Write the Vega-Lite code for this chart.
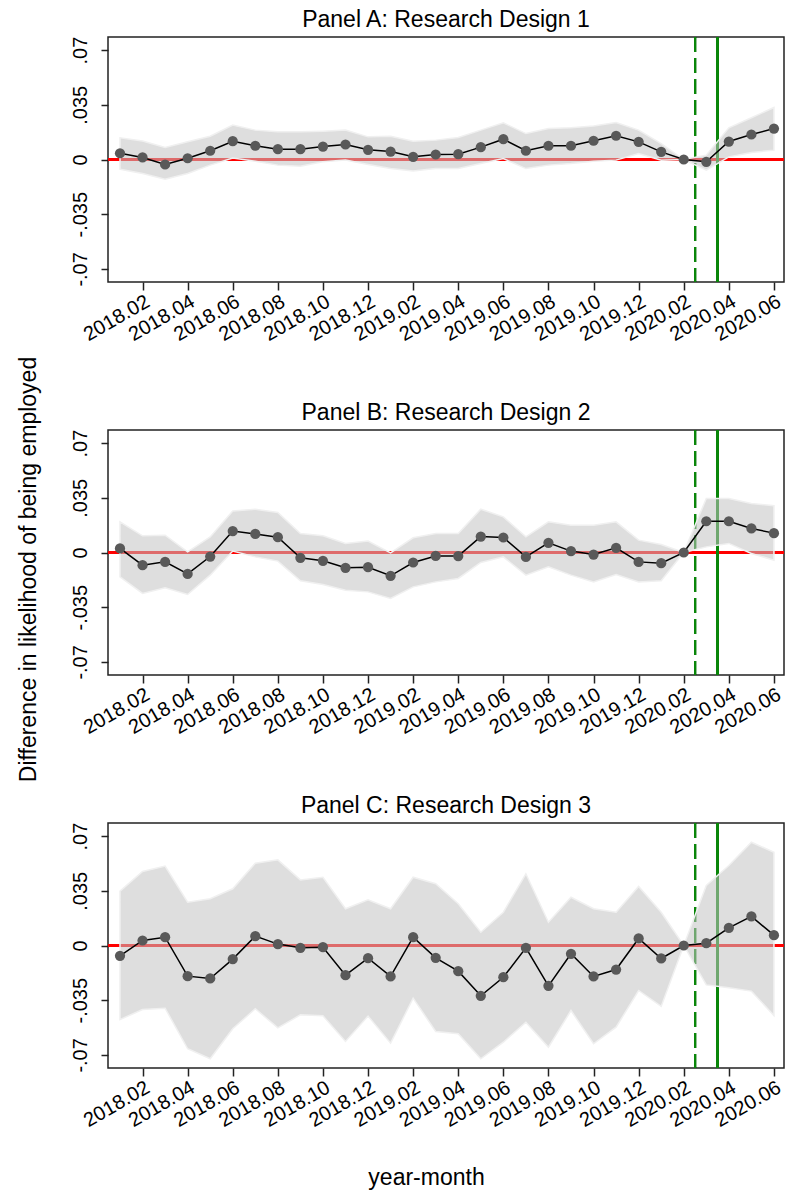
{
  "$schema": "https://vega.github.io/schema/vega-lite/v6.json",
  "autosize": {"type": "pad"},
  "padding": {"left": 16, "top": 8, "right": 2, "bottom": 5},
  "background": "white",
  "datasets": {
    "A": [
      {"t": 1, "est": 0.0040, "lo": -0.0062, "hi": 0.0139},
      {"t": 2, "est": 0.0013, "lo": -0.0090, "hi": 0.0119},
      {"t": 3, "est": -0.0032, "lo": -0.0126, "hi": 0.0077},
      {"t": 4, "est": 0.0008, "lo": -0.0090, "hi": 0.0113},
      {"t": 5, "est": 0.0056, "lo": -0.0036, "hi": 0.0149},
      {"t": 6, "est": 0.0117, "lo": 0.0010, "hi": 0.0220},
      {"t": 7, "est": 0.0088, "lo": -0.0011, "hi": 0.0188},
      {"t": 8, "est": 0.0066, "lo": -0.0036, "hi": 0.0177},
      {"t": 9, "est": 0.0066, "lo": -0.0043, "hi": 0.0177},
      {"t": 10, "est": 0.0083, "lo": -0.0015, "hi": 0.0181},
      {"t": 11, "est": 0.0096, "lo": -0.0004, "hi": 0.0188},
      {"t": 12, "est": 0.0062, "lo": -0.0032, "hi": 0.0145},
      {"t": 13, "est": 0.0051, "lo": -0.0058, "hi": 0.0149},
      {"t": 14, "est": 0.0017, "lo": -0.0073, "hi": 0.0117},
      {"t": 15, "est": 0.0032, "lo": -0.0058, "hi": 0.0124},
      {"t": 16, "est": 0.0034, "lo": -0.0058, "hi": 0.0141},
      {"t": 17, "est": 0.0079, "lo": -0.0026, "hi": 0.0188},
      {"t": 18, "est": 0.0130, "lo": 0.0006, "hi": 0.0235},
      {"t": 19, "est": 0.0056, "lo": -0.0058, "hi": 0.0166},
      {"t": 20, "est": 0.0088, "lo": -0.0036, "hi": 0.0198},
      {"t": 21, "est": 0.0088, "lo": -0.0026, "hi": 0.0203},
      {"t": 22, "est": 0.0120, "lo": -0.0011, "hi": 0.0215},
      {"t": 23, "est": 0.0152, "lo": -0.0004, "hi": 0.0237},
      {"t": 24, "est": 0.0113, "lo": 0.0038, "hi": 0.0188},
      {"t": 25, "est": 0.0049, "lo": -0.0004, "hi": 0.0102},
      {"t": 26, "est": 0.0, "lo": 0.0, "hi": 0.0},
      {"t": 27, "est": -0.0015, "lo": -0.0068, "hi": 0.0028},
      {"t": 28, "est": 0.0115, "lo": 0.0017, "hi": 0.0203},
      {"t": 29, "est": 0.0160, "lo": 0.0045, "hi": 0.0267},
      {"t": 30, "est": 0.0198, "lo": 0.0060, "hi": 0.0333}
    ],
    "B": [
      {"t": 1, "est": 0.0026, "lo": -0.0156, "hi": 0.0196},
      {"t": 2, "est": -0.0081, "lo": -0.0262, "hi": 0.0107},
      {"t": 3, "est": -0.0060, "lo": -0.0226, "hi": 0.0111},
      {"t": 4, "est": -0.0137, "lo": -0.0269, "hi": 0.0004},
      {"t": 5, "est": -0.0026, "lo": -0.0145, "hi": 0.0100},
      {"t": 6, "est": 0.0137, "lo": 0.0009, "hi": 0.0265},
      {"t": 7, "est": 0.0119, "lo": -0.0028, "hi": 0.0277},
      {"t": 8, "est": 0.0098, "lo": -0.0055, "hi": 0.0256},
      {"t": 9, "est": -0.0034, "lo": -0.0181, "hi": 0.0122},
      {"t": 10, "est": -0.0053, "lo": -0.0205, "hi": 0.0107},
      {"t": 11, "est": -0.0098, "lo": -0.0241, "hi": 0.0058},
      {"t": 12, "est": -0.0094, "lo": -0.0252, "hi": 0.0073},
      {"t": 13, "est": -0.0149, "lo": -0.0294, "hi": -0.0002},
      {"t": 14, "est": -0.0064, "lo": -0.0220, "hi": 0.0094},
      {"t": 15, "est": -0.0022, "lo": -0.0188, "hi": 0.0122},
      {"t": 16, "est": -0.0023, "lo": -0.0166, "hi": 0.0122},
      {"t": 17, "est": 0.0102, "lo": -0.0064, "hi": 0.0277},
      {"t": 18, "est": 0.0096, "lo": -0.0028, "hi": 0.0228},
      {"t": 19, "est": -0.0028, "lo": -0.0145, "hi": 0.0100},
      {"t": 20, "est": 0.0062, "lo": -0.0092, "hi": 0.0196},
      {"t": 21, "est": 0.0009, "lo": -0.0145, "hi": 0.0175},
      {"t": 22, "est": -0.0013, "lo": -0.0188, "hi": 0.0175},
      {"t": 23, "est": 0.0030, "lo": -0.0141, "hi": 0.0196},
      {"t": 24, "est": -0.0060, "lo": -0.0188, "hi": 0.0079},
      {"t": 25, "est": -0.0068, "lo": -0.0181, "hi": 0.0051},
      {"t": 26, "est": 0.0, "lo": 0.0, "hi": 0.0},
      {"t": 27, "est": 0.0200, "lo": 0.0036, "hi": 0.0346},
      {"t": 28, "est": 0.0200, "lo": 0.0058, "hi": 0.0346},
      {"t": 29, "est": 0.0154, "lo": -0.0006, "hi": 0.0314},
      {"t": 30, "est": 0.0124, "lo": -0.0049, "hi": 0.0299}
    ],
    "C": [
      {"t": 1, "est": -0.0066, "lo": -0.0474, "hi": 0.0348},
      {"t": 2, "est": 0.0032, "lo": -0.0410, "hi": 0.0474},
      {"t": 3, "est": 0.0053, "lo": -0.0401, "hi": 0.0508},
      {"t": 4, "est": -0.0196, "lo": -0.0661, "hi": 0.0277},
      {"t": 5, "est": -0.0211, "lo": -0.0725, "hi": 0.0299},
      {"t": 6, "est": -0.0087, "lo": -0.0533, "hi": 0.0363},
      {"t": 7, "est": 0.0060, "lo": -0.0405, "hi": 0.0527},
      {"t": 8, "est": 0.0009, "lo": -0.0527, "hi": 0.0548},
      {"t": 9, "est": -0.0015, "lo": -0.0444, "hi": 0.0420},
      {"t": 10, "est": -0.0011, "lo": -0.0450, "hi": 0.0437},
      {"t": 11, "est": -0.0190, "lo": -0.0614, "hi": 0.0235},
      {"t": 12, "est": -0.0081, "lo": -0.0452, "hi": 0.0292},
      {"t": 13, "est": -0.0198, "lo": -0.0625, "hi": 0.0235},
      {"t": 14, "est": 0.0053, "lo": -0.0337, "hi": 0.0437},
      {"t": 15, "est": -0.0079, "lo": -0.0550, "hi": 0.0395},
      {"t": 16, "est": -0.0164, "lo": -0.0565, "hi": 0.0267},
      {"t": 17, "est": -0.0322, "lo": -0.0725, "hi": 0.0085},
      {"t": 18, "est": -0.0203, "lo": -0.0619, "hi": 0.0213},
      {"t": 19, "est": -0.0015, "lo": -0.0491, "hi": 0.0459},
      {"t": 20, "est": -0.0258, "lo": -0.0651, "hi": 0.0149},
      {"t": 21, "est": -0.0053, "lo": -0.0416, "hi": 0.0309},
      {"t": 22, "est": -0.0198, "lo": -0.0629, "hi": 0.0235},
      {"t": 23, "est": -0.0154, "lo": -0.0523, "hi": 0.0213},
      {"t": 24, "est": 0.0045, "lo": -0.0288, "hi": 0.0378},
      {"t": 25, "est": -0.0083, "lo": -0.0390, "hi": 0.0213},
      {"t": 26, "est": 0.0, "lo": 0.0, "hi": 0.0},
      {"t": 27, "est": 0.0015, "lo": -0.0252, "hi": 0.0384},
      {"t": 28, "est": 0.0113, "lo": -0.0271, "hi": 0.0512},
      {"t": 29, "est": 0.0186, "lo": -0.0292, "hi": 0.0661},
      {"t": 30, "est": 0.0066, "lo": -0.0448, "hi": 0.0597}
    ]
  },
  "vconcat": [
    {
      "data": {"name": "A"},
      "width": 676,
      "height": 245,
      "title": {"text": "Panel A: Research Design 1"},
      "layer": [
        {"mark": {"type": "rule", "color": "#ff0000", "strokeWidth": 1.5}, "encoding": {"y": {"datum": 0, "type": "quantitative"}}},
        {"mark": {"type": "rule", "color": "#0a860a", "strokeWidth": 2, "strokeDash": [15, 6]}, "encoding": {"x": {"datum": 26.5, "type": "quantitative"}}},
        {"mark": {"type": "rule", "color": "#0a860a", "strokeWidth": 2}, "encoding": {"x": {"datum": 27.5, "type": "quantitative"}}},
        {
          "mark": {"type": "area", "fill": "#c2c2c2", "fillOpacity": 0.55, "stroke": "#f0f0f0", "strokeWidth": 1.5},
          "encoding": {
            "x": {"field": "t", "type": "quantitative", "scale": {"domain": [0.468, 30.446], "nice": false, "zero": false},
                  "axis": {"title": null, "values": [2,4,6,8,10,12,14,16,18,20,22,24,26,28,30],
                           "labelExpr": "(2018 + floor((datum.value - 1) / 12)) + '.' + ((((datum.value - 1) % 12) + 1) < 10 ? '0' : '') + (((datum.value - 1) % 12) + 1)"}},
            "y": {"field": "lo", "type": "quantitative", "scale": {"domain": [-0.0784, 0.0784], "nice": false, "zero": false},
                  "axis": {"title": "Difference in likelihood of being employed", "titleX": -73, "titleY": 532, "titleBaseline": "alphabetic", "titleAlign": "center", "titleAngle": -90,
                           "values": [-0.07, -0.035, 0, 0.035, 0.07],
                           "labelExpr": "datum.value == 0 ? '0' : (datum.value < 0 ? '-' : '') + replace(format(abs(datum.value), '.3~f'), '0.', '.')"}},
            "y2": {"field": "hi"}
          }
        },
        {"mark": {"type": "line", "color": "black", "strokeWidth": 1.5}, "encoding": {"x": {"field": "t", "type": "quantitative"}, "y": {"field": "est", "type": "quantitative"}}},
        {"mark": {"type": "point", "filled": true, "color": "#595959", "opacity": 1, "size": 105}, "encoding": {"x": {"field": "t", "type": "quantitative"}, "y": {"field": "est", "type": "quantitative"}}}
      ]
    },
    {
      "data": {"name": "B"},
      "width": 676,
      "height": 245,
      "title": {"text": "Panel B: Research Design 2"},
      "layer": [
        {"mark": {"type": "rule", "color": "#ff0000", "strokeWidth": 1.5}, "encoding": {"y": {"datum": 0, "type": "quantitative"}}},
        {"mark": {"type": "rule", "color": "#0a860a", "strokeWidth": 2, "strokeDash": [15, 6]}, "encoding": {"x": {"datum": 26.5, "type": "quantitative"}}},
        {"mark": {"type": "rule", "color": "#0a860a", "strokeWidth": 2}, "encoding": {"x": {"datum": 27.5, "type": "quantitative"}}},
        {
          "mark": {"type": "area", "fill": "#c2c2c2", "fillOpacity": 0.55, "stroke": "#f0f0f0", "strokeWidth": 1.5},
          "encoding": {
            "x": {"field": "t", "type": "quantitative", "scale": {"domain": [0.468, 30.446], "nice": false, "zero": false},
                  "axis": {"title": null, "values": [2,4,6,8,10,12,14,16,18,20,22,24,26,28,30],
                           "labelExpr": "(2018 + floor((datum.value - 1) / 12)) + '.' + ((((datum.value - 1) % 12) + 1) < 10 ? '0' : '') + (((datum.value - 1) % 12) + 1)"}},
            "y": {"field": "lo", "type": "quantitative", "scale": {"domain": [-0.0784, 0.0784], "nice": false, "zero": false},
                  "axis": {"title": null, "values": [-0.07, -0.035, 0, 0.035, 0.07],
                           "labelExpr": "datum.value == 0 ? '0' : (datum.value < 0 ? '-' : '') + replace(format(abs(datum.value), '.3~f'), '0.', '.')"}},
            "y2": {"field": "hi"}
          }
        },
        {"mark": {"type": "line", "color": "black", "strokeWidth": 1.5}, "encoding": {"x": {"field": "t", "type": "quantitative"}, "y": {"field": "est", "type": "quantitative"}}},
        {"mark": {"type": "point", "filled": true, "color": "#595959", "opacity": 1, "size": 105}, "encoding": {"x": {"field": "t", "type": "quantitative"}, "y": {"field": "est", "type": "quantitative"}}}
      ]
    },
    {
      "data": {"name": "C"},
      "width": 676,
      "height": 245,
      "title": {"text": "Panel C: Research Design 3"},
      "layer": [
        {"mark": {"type": "rule", "color": "#ff0000", "strokeWidth": 1.5}, "encoding": {"y": {"datum": 0, "type": "quantitative"}}},
        {"mark": {"type": "rule", "color": "#0a860a", "strokeWidth": 2, "strokeDash": [15, 6]}, "encoding": {"x": {"datum": 26.5, "type": "quantitative"}}},
        {"mark": {"type": "rule", "color": "#0a860a", "strokeWidth": 2}, "encoding": {"x": {"datum": 27.5, "type": "quantitative"}}},
        {
          "mark": {"type": "area", "fill": "#c2c2c2", "fillOpacity": 0.55, "stroke": "#f0f0f0", "strokeWidth": 1.5},
          "encoding": {
            "x": {"field": "t", "type": "quantitative", "scale": {"domain": [0.468, 30.446], "nice": false, "zero": false},
                  "axis": {"title": "year-month", "titleX": 318, "titleY": 116, "titleBaseline": "alphabetic", "titleAlign": "center", "titleAngle": 0,
                           "values": [2,4,6,8,10,12,14,16,18,20,22,24,26,28,30],
                           "labelExpr": "(2018 + floor((datum.value - 1) / 12)) + '.' + ((((datum.value - 1) % 12) + 1) < 10 ? '0' : '') + (((datum.value - 1) % 12) + 1)"}},
            "y": {"field": "lo", "type": "quantitative", "scale": {"domain": [-0.0784, 0.0784], "nice": false, "zero": false},
                  "axis": {"title": null, "values": [-0.07, -0.035, 0, 0.035, 0.07],
                           "labelExpr": "datum.value == 0 ? '0' : (datum.value < 0 ? '-' : '') + replace(format(abs(datum.value), '.3~f'), '0.', '.')"}},
            "y2": {"field": "hi"}
          }
        },
        {"mark": {"type": "line", "color": "black", "strokeWidth": 1.5}, "encoding": {"x": {"field": "t", "type": "quantitative"}, "y": {"field": "est", "type": "quantitative"}}},
        {"mark": {"type": "point", "filled": true, "color": "#595959", "opacity": 1, "size": 105}, "encoding": {"x": {"field": "t", "type": "quantitative"}, "y": {"field": "est", "type": "quantitative"}}}
      ]
    }
  ],
  "spacing": 148,
  "bounds": "flush",
  "config": {
    "font": "Liberation Sans",
    "view": {"stroke": "#222222", "strokeWidth": 1.5},
    "axis": {"domain": false, "grid": false, "ticks": true, "tickColor": "#222222", "tickWidth": 1.5,
             "labelColor": "black", "labelFont": "Liberation Sans", "titleFont": "Liberation Sans",
             "titleFontWeight": "normal", "titleColor": "black", "titleFontSize": 23, "labelOverlap": false, "labelFlush": false},
    "axisX": {"labelFontSize": 20, "labelAngle": -30, "labelAlign": "right", "labelBaseline": "top", "labelPadding": 1, "tickSize": 8},
    "axisY": {"labelFontSize": 20, "labelAngle": -90, "labelAlign": "center", "labelBaseline": "bottom", "labelPadding": 11, "tickSize": 7},
    "title": {"fontSize": 23, "fontWeight": "normal", "font": "Liberation Sans", "color": "black", "frame": "group", "anchor": "middle", "baseline": "alphabetic", "offset": 4}
  }
}
